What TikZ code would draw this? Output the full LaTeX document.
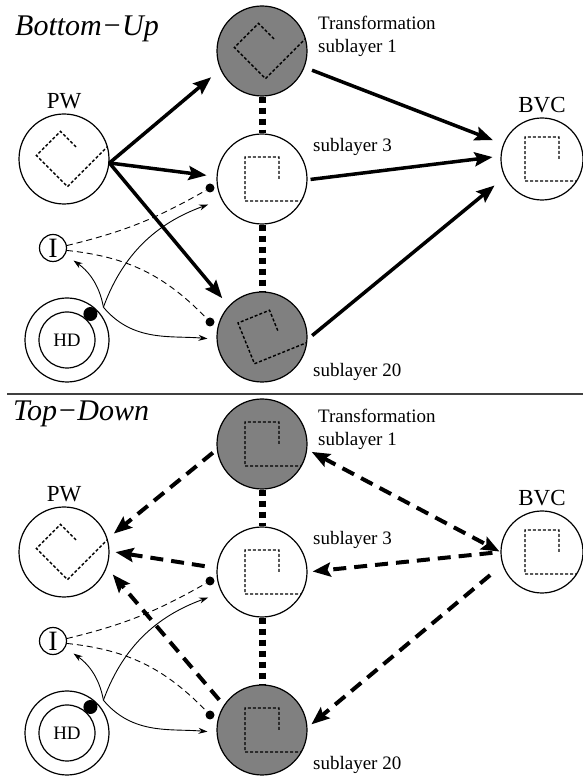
\documentclass[tikz,border=0pt]{standalone}
\usepackage{fontspec}
\setmainfont{Liberation Serif}
\usepackage{tikz}
\usetikzlibrary{positioning, arrows.meta, calc}

\tikzset{
  layer/.style={circle, draw, line width=1.2pt, minimum size=90pt, inner sep=0pt, fill=white},
  darklayer/.style={layer, fill=black!50},
  glyph/.style={path picture={
      \coordinate (gc) at (path picture bounding box.center);
      \draw[line width=1.4pt, dash pattern=on 3pt off 2pt]
        ($(gc)+(#1:17pt)$) -- ($(gc)+(52.3+#1:27.8pt)$) -- ($(gc)+(127.7+#1:27.8pt)$)
        -- ($(gc)+(232.3+#1:27.8pt)$) -- ($(gc)+(-17.4+#1:73.4pt)$);}},
  caption/.style={font=\fontsize{23}{26}\selectfont},
  headline/.style={font=\fontsize{30}{34}\selectfont\itshape, anchor=base west, inner sep=0pt},
  tag/.style={font=\fontsize{19}{23}\selectfont, align=left, inner sep=0pt},
  ring/.style={circle, draw, line width=1.2pt, inner sep=0pt},
  tack/.style={circle, fill=black, inner sep=0pt, minimum size=#1},
  tower/.style={line width=7pt, dash pattern=on 6pt off 5pt},
  feedup/.style={line width=3.5pt, ->},
  feeddown/.style={line width=4pt, dash pattern=on 13pt off 8pt, ->},
  link/.style={line width=0.9pt, -{Stealth[length=9pt, width=6pt]}},
  cue/.style={line width=0.9pt, dash pattern=on 6pt off 4pt}
}

\begin{document}
\begin{tikzpicture}[x=1pt, y=1pt, >={Stealth[length=18pt, width=14pt, inset=3pt]},
  every label/.style={caption}, label distance=1pt]
\useasboundingbox (0,0) rectangle (583,777);

\node[headline] (hup) at (15,741) {Bottom−Up};
\node[darklayer, glyph=45] (s1u) at (262,726) {};
\node[layer, glyph=0] (s3u) at (262,598) {};
\node[darklayer, glyph=22] (s20u) at (262,440) {};
\node[layer, glyph=45, label=above:PW] (pwu) at (64,618) {};
\node[layer, minimum size=82pt, glyph=0, label=above:BVC] (bvcu) at (542,618) {};
\node[tag, anchor=north west] (t1u) at (318,761) {Transformation\\sublayer 1};
\node[tag, anchor=base west] (t3u) at (313,625) {sublayer 3};
\node[tag, anchor=base west] (t20u) at (313,400) {sublayer 20};
\draw[tower] (s1u.south) -- (s3u.north);
\draw[tower] (s3u.south) -- (s20u.north);
\draw[feedup, shorten >=12pt] (pwu.-5) -- (s1u.204);
\draw[feedup, shorten >=10pt] (pwu.-5) -- (s3u.177);
\draw[feedup, shorten >=10pt] (pwu.-5) -- (s20u.137);
\draw[feedup, shorten <=8pt, shorten >=11pt] (s1u.-21) -- (bvcu.159);
\draw[feedup, shorten <=3pt, shorten >=8pt] (s3u.-1) -- (bvcu.176);
\draw[feedup, shorten <=6pt, shorten >=13pt] (s20u.-3) -- (bvcu.206);
\node[ring, minimum size=27pt, font=\fontsize{28}{28}\selectfont] (iu) at (53,529) {I};
\node[ring, minimum size=84pt] (hdu) at (67,437) {};
\node[ring, minimum size=56pt, font=\fontsize{19}{19}\selectfont] (hdiu) at (hdu) {HD};
\node[tack=14pt] (bu) at ($(hdu)+(48:35)$) {};
\coordinate (su) at ($(hdu)+(42:49)$);
\node[tack=9pt] (d3u) at (210,589) {};
\node[tack=9pt] (d20u) at (210,455) {};
\draw[cue] (iu.10) to[bend right=8] (d3u);
\draw[cue] (iu.-10) to[bend left=20] (d20u);
\draw[link, shorten >=10pt] (su) to[out=100, in=-35] (iu.-29);
\draw[link, shorten >=14pt] (su) to[out=70, in=200] (s3u.207);
\draw[link, shorten >=9pt] (su) to[out=-50, in=175] (s20u.183);

\draw[line width=1.5pt, black!75] (7,383) -- (583,383);

\node[headline] (hdown) at (13,356) {Top−Down};
\node[darklayer, glyph=0] (s1d) at (262,333) {};
\node[layer, glyph=0] (s3d) at (262,205) {};
\node[darklayer, glyph=0] (s20d) at (262,47) {};
\node[layer, glyph=45, label=above:PW] (pwd) at (64,225) {};
\node[layer, minimum size=82pt, glyph=0, label=above:BVC] (bvcd) at (542,225) {};
\node[tag, anchor=north west] (t1d) at (318,368) {Transformation\\sublayer 1};
\node[tag, anchor=base west] (t3d) at (313,232) {sublayer 3};
\node[tag, anchor=base west] (t20d) at (313,7) {sublayer 20};
\draw[tower] (s1d.south) -- (s3d.north);
\draw[tower] (s3d.south) -- (s20d.north);
\draw[feeddown, shorten <=5pt, shorten >=8pt] (s1d.187) -- (pwd.17);
\draw[feeddown, shorten <=12pt, shorten >=6pt] (s3d.175) -- (pwd.1);
\draw[feeddown, shorten <=7pt, shorten >=9pt] (s20d.147) -- (pwd.-20);
\draw[feeddown, <->, shorten <=5pt, shorten >=1pt] (s1d.-7) -- (bvcd.west);
\draw[feeddown, shorten <=8pt, shorten >=5pt] (bvcd.west) -- (s3d.0);
\draw[feeddown, shorten <=16pt, shorten >=5pt] (bvcd.198) -- (s20d.3);
\node[ring, minimum size=27pt, font=\fontsize{28}{28}\selectfont] (id) at (53,136) {I};
\node[ring, minimum size=84pt] (hdd) at (67,44) {};
\node[ring, minimum size=56pt, font=\fontsize{19}{19}\selectfont] (hdid) at (hdd) {HD};
\node[tack=14pt] (bd) at ($(hdd)+(48:35)$) {};
\coordinate (sd) at ($(hdd)+(42:49)$);
\node[tack=9pt] (d3d) at (210,196) {};
\node[tack=9pt] (d20d) at (210,62) {};
\draw[cue] (id.10) to[bend right=8] (d3d);
\draw[cue] (id.-10) to[bend left=20] (d20d);
\draw[link, shorten >=10pt] (sd) to[out=100, in=-35] (id.-29);
\draw[link, shorten >=14pt] (sd) to[out=70, in=200] (s3d.207);
\draw[link, shorten >=9pt] (sd) to[out=-50, in=175] (s20d.183);
\end{tikzpicture}
\end{document}
